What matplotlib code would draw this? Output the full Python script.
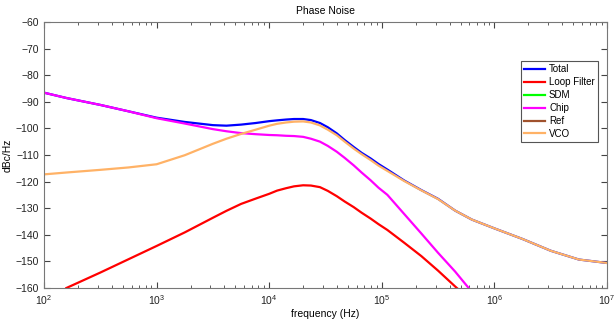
import numpy as np
import matplotlib
matplotlib.use("Agg")
import matplotlib.pyplot as plt

plt.rcParams["font.family"] = ["Liberation Sans", "DejaVu Sans"]

# frequency grid (Hz) the values were read on
freq = [100, 158, 316, 562, 1000, 1778, 3162, 4169, 5623, 7586, 1e4, 11749,
        1.41e4, 16596, 2e4, 23442, 2.82e4, 33113, 3.98e4, 46774, 5.62e4, 66069,
        7.94e4, 93325, 1.12e5, 1.58e5, 2.24e5, 3.16e5, 4.47e5, 6.31e5,
        1e6, 1.78e6, 3.16e6, 5.62e6, 1e7]

nan = np.nan
total = [-86.6, -88.6, -91.2, -93.6, -96.0, -97.6, -98.8, -99.0, -98.6, -98.0,
         -97.3, -97.0, -96.7, -96.5, -96.5, -96.9, -98.0, -99.6, -101.9, -104.4,
         -107.0, -109.2, -111.3, -113.4, -115.5, -119.6, -123.2, -126.5,
         -130.9, -134.3, -137.6, -141.6, -146.0, -149.3, -150.6]
loop_filter = [nan, -160.0, -154.2, -149.2, -144.2, -139.1, -133.6, -131.0,
               -128.4, -126.4, -124.6, -123.4, -122.5, -121.8, -121.4, -121.5,
               -122.1, -123.5, -125.5, -127.5, -129.6, -131.7, -133.9, -136.0,
               -138.2, -143.0, -148.0, -153.5, -159.4, -165.0,
               nan, nan, nan, nan, nan]
chip = [-86.6, -88.6, -91.2, -93.6, -96.2, -98.2, -100.3, -101.1, -101.8,
        -102.2, -102.5, -102.6, -102.8, -102.9, -103.2, -103.9, -105.0, -106.6,
        -108.8, -111.1, -113.9, -116.6, -119.5, -122.3, -125.0, -132.2, -139.5,
        -146.8, -153.8, -161.5, nan, nan, nan, nan, nan]
vco = [-117.3, -116.6, -115.6, -114.7, -113.5, -110.1, -105.8, -103.9, -102.1,
       -100.5, -99.0, -98.3, -97.8, -97.5, -97.4, -97.8, -98.9, -100.5, -102.6,
       -105.0, -107.6, -109.7, -111.9, -114.0, -116.0, -119.8, -123.3, -126.6,
       -130.9, -134.3, -137.6, -141.6, -146.0, -149.3, -150.6]
# SDM and Ref stay below the visible range
sdm = []
ref = []

fig = plt.figure(figsize=(6.14, 3.21), dpi=100)
ax = fig.add_axes([0.0717, 0.1028, 0.917, 0.829])

lw = 1.6
ax.semilogx(freq, total, color="#0000ff", lw=lw, label="Total")
ax.semilogx(freq, loop_filter, color="#ff0000", lw=lw, label="Loop Filter")
ax.semilogx([], sdm, color="#00ff00", lw=lw, label="SDM")
ax.semilogx(freq, chip, color="#ff00ff", lw=lw, label="Chip")
ax.semilogx([], ref, color="#a0522d", lw=lw, label="Ref")
ax.semilogx(freq, vco, color="#ffb266", lw=lw, label="VCO")

ax.set_xlim(1e2, 1e7)
ax.set_ylim(-160, -60)
ax.set_yticks(np.arange(-160, -59, 10))
ax.tick_params(which="both", direction="in", top=True, right=True,
               labelsize=7.5, colors="#444444", labelcolor="#222222")
ax.tick_params(which="major", length=4)
ax.tick_params(which="minor", length=2)
for s in ax.spines.values():
    s.set_color("#777777")
    s.set_linewidth(0.8)

ax.set_title("Phase Noise", fontsize=7.5, pad=6)
ax.set_xlabel("frequency (Hz)", fontsize=7.5, labelpad=2)
ax.set_ylabel("dBc/Hz", fontsize=7.5, labelpad=2)

leg = ax.legend(loc="upper right", bbox_to_anchor=(0.992, 0.87), fontsize=7,
                handlelength=2.2, handletextpad=0.4, labelspacing=0.3,
                borderpad=0.3, fancybox=False, framealpha=1)
leg.get_frame().set_edgecolor("#555555")
leg.get_frame().set_linewidth(0.8)

fig.savefig("out.png", dpi=100)
